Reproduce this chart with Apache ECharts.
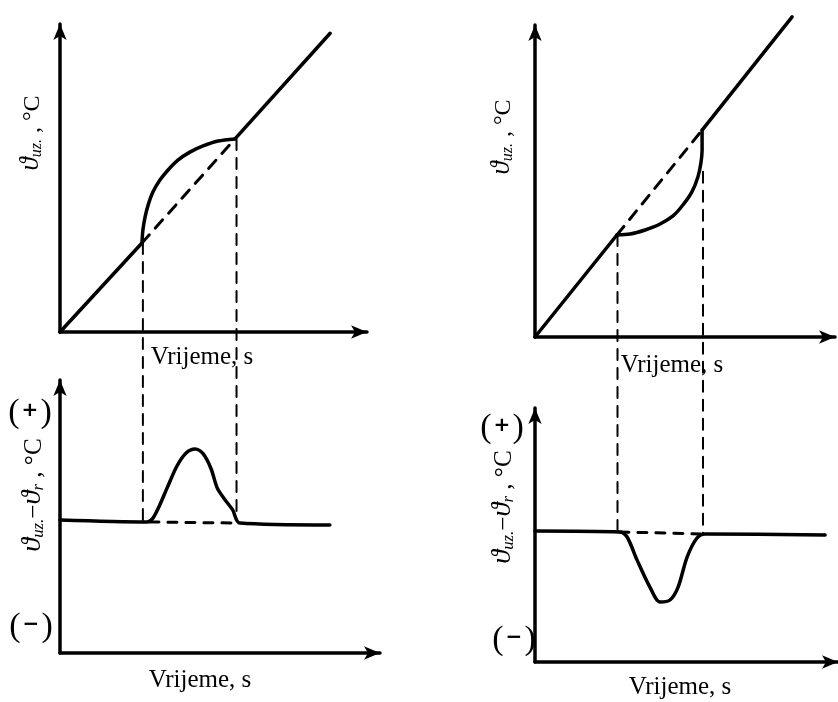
<!DOCTYPE html>
<html><head><meta charset="utf-8">
<script src="https://cdn.jsdelivr.net/npm/echarts@6/dist/echarts.min.js"></script>
<style>html,body{margin:0;padding:0;background:#fff}#c{width:838px;height:702px}</style>
</head><body><div id="c"></div>
<script>
// ---- Top-left panel (exothermic, temperature curve) ----
const tlLineA = [[0, 0], [2.67, 2.89]];
const tlCurve = [[2.67, 2.89], [2.70, 3.31], [2.77, 3.73], [2.87, 4.12], [3.03, 4.55], [3.26, 4.94], [3.52, 5.26], [3.84, 5.58], [4.23, 5.84], [4.66, 6.04], [5.15, 6.2], [5.7, 6.27]];
const tlLineB = [[5.7, 6.27], [8.8, 9.7]];
const tlDashDiag = [[2.67, 2.89], [5.7, 6.27]];
const tlVert1 = [[2.7, 2.89], [2.7, -6.1]];
const tlVert2 = [[5.75, 6.27], [5.75, -6.1]];

// ---- Bottom-left panel (DTA peak, positive) ----
const blCurve = [[0, 4.87], [2.83, 4.8], [3.0, 4.9], [3.2, 5.3], [3.49, 6.05], [3.81, 6.85], [4.1, 7.32], [4.4, 7.47], [4.66, 7.3], [4.92, 6.75], [5.12, 6.05], [5.35, 5.65], [5.62, 5.25], [5.86, 4.76], [8.79, 4.69]];
const blDashBase = [[2.93, 4.8], [5.73, 4.76]];

// ---- Top-right panel (endothermic, temperature curve) ----
const trLineA = [[0, 0], [2.73, 3.27]];
const trCurve = [[2.73, 3.27], [3.17, 3.3], [3.67, 3.43], [4.17, 3.62], [4.6, 3.88], [4.93, 4.23], [5.23, 4.65], [5.43, 5.13], [5.53, 5.58], [5.57, 5.99], [5.57, 6.63]];
const trLineB = [[5.57, 6.63], [8.57, 10.26]];
const trDashDiag = [[2.73, 3.27], [5.57, 6.63]];
const trVert1 = [[2.75, 3.27], [2.75, -6.28]];
const trVert2 = [[5.6, 5.3], [5.6, -6.28]];

// ---- Bottom-right panel (DTA peak, negative) ----
const brCurve = [[0, 5.16], [2.83, 5.12], [3.07, 4.92], [3.4, 4.02], [3.83, 2.95], [4.17, 2.36], [4.5, 2.44], [4.77, 2.95], [5.07, 4.13], [5.4, 4.88], [5.67, 5.04], [9.67, 5.0]];
const brDashBase = [[2.83, 5.12], [5.67, 5.04]];

// ---- Texts ----
const xTitle = 'Vrijeme, s';
const yTitleTop = '{v|ϑ}{s|uz.}{n| , °C}';
const yTitleBottom = '{v|ϑ}{s|uz.}{n|−}{v|ϑ}{s|r}{n| , °C}';
const plusLabel = '{b|(}{p|+}{b|)}';
const minusLabel = '{b|(}{p|−}{b|)}';

const SERIF = '"Liberation Serif","DejaVu Serif",serif';
const chart = echarts.init(document.getElementById('c'), null, {renderer: 'canvas'});

const grids = [
  {left: 60, top: 24, width: 307, height: 308},
  {left: 60, top: 380, width: 320, height: 273},
  {left: 535, top: 25, width: 300, height: 312},
  {left: 535, top: 408, width: 303, height: 254}
];
const xMax = [10, 320 / 30.7, 10, 10.1];

function axisLine() {
  return {show: true, onZero: false, symbol: ['none', 'arrow'], symbolSize: [10, 16],
    lineStyle: {color: '#000', width: 3.5}};
}
const xAxes = grids.map((g, i) => ({type: 'value', gridIndex: i, min: 0, max: xMax[i],
  axisLine: axisLine(), axisTick: {show: false}, axisLabel: {show: false}, splitLine: {show: false}}));
const yAxes = grids.map((g, i) => ({type: 'value', gridIndex: i, min: 0, max: 10,
  axisLine: axisLine(), axisTick: {show: false}, axisLabel: {show: false}, splitLine: {show: false}}));

function ser(data, idx, opts) {
  opts = opts || {};
  return {type: 'line', data: data, xAxisIndex: idx, yAxisIndex: idx, symbol: 'none',
    clip: false, silent: true, smooth: opts.smooth || false,
    lineStyle: {color: '#000', width: opts.width || 3.5, type: opts.dash || 'solid', cap: 'round', join: 'round'},
    z: opts.z || 3};
}
const vDash = [11, 8];
const series = [
  ser(tlLineA, 0), ser(tlCurve, 0, {smooth: 0.3}), ser(tlLineB, 0),
  ser(tlDashDiag, 0, {dash: [11, 9], width: 3}),
  ser(tlVert1, 0, {dash: vDash, width: 2}), ser(tlVert2, 0, {dash: vDash, width: 2}),
  ser(blCurve, 1, {smooth: 0.3}), ser(blDashBase, 1, {dash: [9, 9], width: 3}),
  ser(trLineA, 2), ser(trCurve, 2, {smooth: 0.3}), ser(trLineB, 2),
  ser(trDashDiag, 2, {dash: [11, 9], width: 3}),
  ser(trVert1, 2, {dash: vDash, width: 2}), ser(trVert2, 2, {dash: vDash, width: 2}),
  ser(brCurve, 3, {smooth: 0.3}), ser(brDashBase, 3, {dash: [9, 9], width: 3})
];

function richSet(k) {
  return {
    v: {fontFamily: SERIF, fontStyle: 'italic', fontSize: 27 * k, fill: '#000', verticalAlign: 'bottom'},
    s: {fontFamily: SERIF, fontStyle: 'italic', fontSize: 16 * k, fill: '#000', verticalAlign: 'bottom'},
    n: {fontFamily: SERIF, fontSize: 24 * k, fill: '#000', verticalAlign: 'bottom'},
    b: {fontFamily: SERIF, fontSize: 34, fill: '#000', verticalAlign: 'middle'},
    p: {fontFamily: '"DejaVu Sans",sans-serif', fontWeight: 'bold', fontSize: 20, fill: '#000', verticalAlign: 'middle', padding: [0, 2, 4, 2]}
  };
}
function txt(x, y, text, size, rot, k) {
  return {type: 'text', x: x, y: y, rotation: rot || 0, z: 10,
    style: {text: text, fontFamily: SERIF, fontSize: size, fill: '#000', align: 'center', verticalAlign: 'middle', rich: richSet(k || 1)}};
}
const graphic = [
  txt(202, 357, xTitle, 25),
  txt(200, 680, xTitle, 25),
  txt(672, 365, xTitle, 25),
  txt(680, 687, xTitle, 25),
  txt(31, 133, yTitleTop, 21, Math.PI / 2, 1),
  txt(502, 137, yTitleTop, 21, Math.PI / 2, 1),
  txt(33, 495, yTitleBottom, 21, Math.PI / 2, 1.05),
  txt(503, 507, yTitleBottom, 21, Math.PI / 2, 1.05),
  txt(30, 413, plusLabel, 30),
  txt(31, 627, minusLabel, 30),
  txt(502, 428, plusLabel, 30),
  txt(514, 640, minusLabel, 30)
];

chart.setOption({
  animation: false,
  backgroundColor: '#fff',
  grid: grids,
  xAxis: xAxes,
  yAxis: yAxes,
  series: series,
  graphic: graphic
});
</script></body></html>
